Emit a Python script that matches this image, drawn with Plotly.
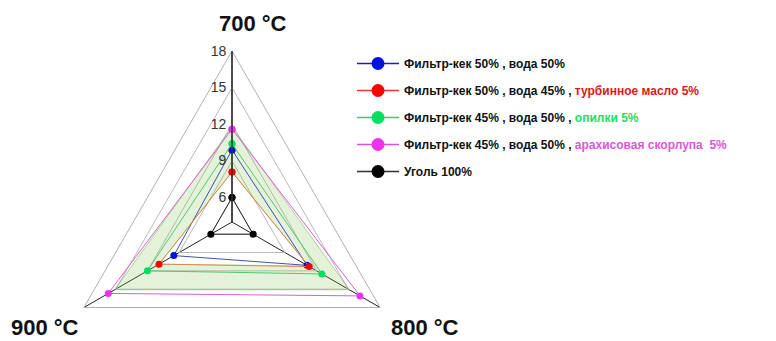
import plotly.graph_objects as go

categories = ['700 °C', '800 °C', '900 °C']
blue_vals = [9.9, 11.1, 9.5]
red_vals = [8.1, 11.3, 10.9]
green_vals = [10.4, 12.5, 12.0]
magenta_vals = [11.6, 16.1, 15.7]
black_vals = [6.0, 6.0, 6.0]
band_low = [8.1, 11.2, 10.9]
band_high = [11.8, 15.1, 15.1]
radial_ticks = [6, 9, 12, 15, 18]

names = [
    '<b>Фильтр-кек 50% , вода 50%</b>',
    '<b>Фильтр-кек 50% , вода 45% , <span style="color:#e01818">турбинное масло 5%</span></b>',
    '<b>Фильтр-кек 45% , вода 50% , <span style="color:#22dd66">опилки 5%</span></b>',
    '<b>Фильтр-кек 45% , вода 50% , <span style="color:#dd55dd">арахисовая скорлупа  5%</span></b>',
    '<b>Уголь 100%</b>',
]
series = [blue_vals, red_vals, green_vals, magenta_vals, black_vals]
line_cols = ['#4050b0', '#d8864a', '#50c870', '#d860d8', '#222222']
marker_cols = ['#0010e0', '#ff0000', '#00e060', '#ee33ee', '#000000']
legend_line_cols = ['#2020a0', '#ff3030', '#30d070', '#e050e0', '#333333']

W, H = 776, 400
cx, cy, R = 232, 222, 171


def closed(v):
    return list(v) + [v[0]]


th = closed(categories)
fig = go.Figure()

# shaded band
fig.add_trace(go.Scatterpolar(r=closed(band_low), theta=th, mode='lines',
                              line=dict(color='rgba(120,180,100,0.35)', width=1),
                              showlegend=False, hoverinfo='skip'))
fig.add_trace(go.Scatterpolar(r=closed(band_high), theta=th, mode='lines', fill='tonext',
                              fillcolor='rgba(140,200,90,0.24)',
                              line=dict(color='rgba(120,180,100,0.55)', width=1),
                              showlegend=False, hoverinfo='skip'))

for vals, lc, mc in zip(series, line_cols, marker_cols):
    fig.add_trace(go.Scatterpolar(r=closed(vals), theta=th, mode='lines+markers',
                                  line=dict(color=lc, width=1),
                                  marker=dict(color=mc, size=7),
                                  showlegend=False))

for i, (nm, lc, mc) in enumerate(zip(names, legend_line_cols, marker_cols)):
    fig.add_trace(go.Scatterpolar(r=[None], theta=[None], mode='lines+markers', name=nm,
                                  line=dict(color=lc, width=1.5),
                                  marker=dict(color=mc, size=13),
                                  legendgroup='g%d' % i, showlegend=True))

fig.update_layout(
    width=W, height=H,
    margin=dict(l=0, r=0, t=0, b=0),
    paper_bgcolor='white', plot_bgcolor='white',
    font=dict(family='Liberation Sans, Arial, sans-serif', color='#111'),
    polar=dict(
        domain=dict(x=[(cx - R) / W, (cx + R) / W], y=[(H - cy - R) / H, (H - cy + R) / H]),
        bgcolor='rgba(0,0,0,0)',
        gridshape='linear',
        radialaxis=dict(range=[4, 18], tickvals=radial_ticks, angle=90, tickangle=90,
                        side='counterclockwise', showline=True, linecolor='#333',
                        linewidth=1.5, gridcolor='#b8b8b8', gridwidth=1, ticks='',
                        tickfont=dict(size=14, color='#333')),
        angularaxis=dict(categoryorder='array', categoryarray=categories,
                         direction='clockwise', rotation=90, showticklabels=False,
                         ticks='', showline=True, linecolor='#b0b0b0', linewidth=1,
                         gridcolor='#222', gridwidth=1.2),
    ),
    legend=dict(x=352 / W, y=1 - 49 / H, xanchor='left', yanchor='top',
                font=dict(size=12, color='#111'), tracegroupgap=8,
                bgcolor='rgba(0,0,0,0)', itemwidth=42),
)

label_pos = [(253, 23), (425, 327), (45, 327)]
for cat, (px, py) in zip(categories, label_pos):
    fig.add_annotation(text='<b>%s</b>' % cat, x=px / W, y=1 - py / H, xref='paper', yref='paper',
                       showarrow=False, xanchor='center', yanchor='middle', borderpad=0,
                       font=dict(size=22, color='#111'))

fig.write_html('out.html', config={'displayModeBar': False},
               post_script="document.body.style.margin='0';document.body.style.overflow='hidden';")
